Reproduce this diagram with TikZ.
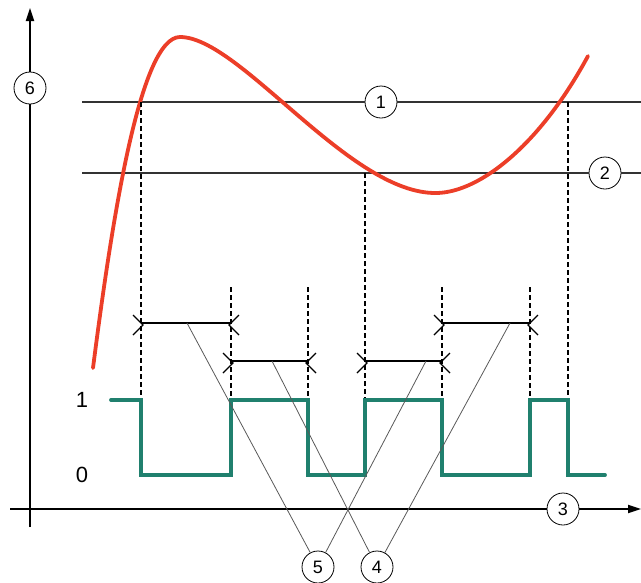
\documentclass[tikz,border=0pt]{standalone}
\usepackage{fontspec}
\setmainfont{Liberation Sans}
\usetikzlibrary{arrows.meta}
\definecolor{curvered}{RGB}{236,62,40}
\definecolor{wavegreen}{RGB}{32,128,110}
\tikzset{
  callout/.style={draw, circle, thick, fill=white, inner sep=0pt, minimum size=32pt, font=\fontsize{18}{18}\selectfont},
  axis/.style={line width=1.8pt, -{Triangle[length=13pt,width=8pt]}},
  level/.style={line width=1.2pt, black!80},
  guide/.style={line width=1.2pt, dash pattern=on 5pt off 3pt},
  span/.style={line width=1.3pt},
  barb/.style={line width=1.3pt},
  leader/.style={line width=0.8pt, black!65},
}
\begin{document}
\begin{tikzpicture}[x=1pt, y=-1pt, font=\fontsize{22}{22}\selectfont]
  \useasboundingbox (0,0) rectangle (641,582);
  % Achsen
  \node[callout] (n6) at (30,88) {6};
  \node[callout] (n3) at (563,509) {3};
  \coordinate (ybot) at (30,527);
  \coordinate (ytop) at (30,8);
  \coordinate (xleft) at (10,509);
  \coordinate (xright) at (641,509);
  \draw[line width=1.8pt] (ybot) -- (n6);
  \draw[axis] (n6) -- (ytop);
  \draw[line width=1.8pt] (xleft) -- (n3);
  \draw[axis] (n3) -- (xright);
  % Grenzwerte
  \node[callout] (n1) at (381,102) {1};
  \node[callout] (n2) at (605,173) {2};
  \draw[level] (82,102) -- (n1) -- (641,102);
  \draw[level] (82,173) -- (n2) -- (641,173);
  % Messwert
  \draw[curvered, line width=3.8pt, line cap=round]
    (93,368) .. controls (112,220) and (140,37) .. (180,37)
    .. controls (240,37) and (350,195) .. (437,193)
    .. controls (480,192) and (540,145) .. (588,56);
  % Hilfslinien
  \foreach \x/\top in {141/102, 231/287, 308/287, 365/173, 442/287, 530/287, 568/102} {
    \draw[guide] (\x,\top) -- (\x,400);
  }
  % Schaltausgang
  \node (hi) at (82,400) {1};
  \node (lo) at (82,475) {0};
  \draw[wavegreen, line width=3.8pt, line cap=round] (111,400) -- (141,400) -- (141,475) -- (231,475)
    -- (231,400) -- (308,400) -- (308,475) -- (365,475) -- (365,400) -- (442,400)
    -- (442,475) -- (530,475) -- (530,400) -- (568,400) -- (568,475) -- (605,475);
  % Verzoegerungen
  \node[callout] (n5) at (318,567) {5};
  \node[callout] (n4) at (377,567) {4};
  \foreach \n/\xa/\xb/\y/\xm in {a/141/231/323/187, b/231/308/361/272, c/365/442/361/426, d/442/530/323/510} {
    \coordinate (\n l) at (\xa,\y);
    \coordinate (\n r) at (\xb,\y);
    \coordinate (\n m) at (\xm,\y);
    \draw[span] (\n l) -- (\n r);
    \draw[barb] (\n l) ++(-8,-8) -- ++(10,10) -- ++(-10,10);
    \draw[barb] (\n r) ++(8,-8) -- ++(-10,10) -- ++(10,10);
  }
  \draw[leader] (am) -- (n5);
  \draw[leader] (cm) -- (n5);
  \draw[leader] (bm) -- (n4);
  \draw[leader] (dm) -- (n4);
\end{tikzpicture}
\end{document}
